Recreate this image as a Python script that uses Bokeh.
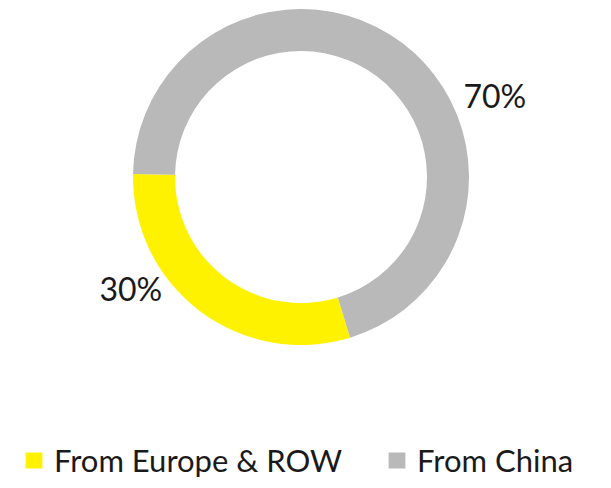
import numpy as np
from bokeh.plotting import figure
from bokeh.models import ColumnDataSource, Legend, LegendItem, Range1d
from bokeh.embed import file_html
from bokeh.resources import INLINE
from bokeh.core.properties import value

# ---- data ----
categories = ["From Europe & ROW", "From China"]
shares = [30, 70]
pct_labels = ["30%", "70%"]
colors = ["#FFF200", "#B9B9B9"]

# ---- layout / style ----
W, H = 595, 480
START_DEG = 179.0
CX, CY = 300.5, 303.5
R_OUT, R_IN = 168, 126
label_x = [99, 463]
label_y = [192, 385]
FONT = "Lato"
TEXT_COLOR = "#1a1a1a"

vals = np.array(shares, dtype=float)
frac = vals / vals.sum()
ends = np.cumsum(frac) * 2 * np.pi
starts = np.concatenate([[0.0], ends[:-1]])
off = np.deg2rad(START_DEG)

src = ColumnDataSource(dict(
    cat=categories,
    start=starts + off,
    end=ends + off,
    color=colors,
))

p = figure(width=W, height=H, output_backend="svg", toolbar_location=None,
           x_range=Range1d(0, W), y_range=Range1d(0, H),
           x_axis_location=None, y_axis_location=None,
           min_border=0, outline_line_color=None, background_fill_color="white")
p.grid.visible = False

r = p.annular_wedge(x=CX, y=CY, inner_radius=R_IN, outer_radius=R_OUT,
                    start_angle="start", end_angle="end", direction="anticlock",
                    fill_color="color", line_color=None, source=src)

lsrc = ColumnDataSource(dict(x=label_x, y=label_y, t=pct_labels))
p.text(x="x", y="y", text="t", source=lsrc, text_font=value(FONT),
       text_font_size="32px", text_color=TEXT_COLOR,
       text_align="left", text_baseline="alphabetic")

items = [LegendItem(label=c, renderers=[r], index=i) for i, c in enumerate(categories)]
legend = Legend(items=items, orientation="horizontal", location=(23, 1),
                label_text_font=FONT, label_text_font_size="31px",
                label_text_color=TEXT_COLOR, label_standoff=10,
                glyph_width=21, glyph_height=20, spacing=44,
                padding=0, margin=0, border_line_color=None,
                background_fill_alpha=0)
p.add_layout(legend, "center")

open("out.html", "w").write(file_html(p, INLINE))
